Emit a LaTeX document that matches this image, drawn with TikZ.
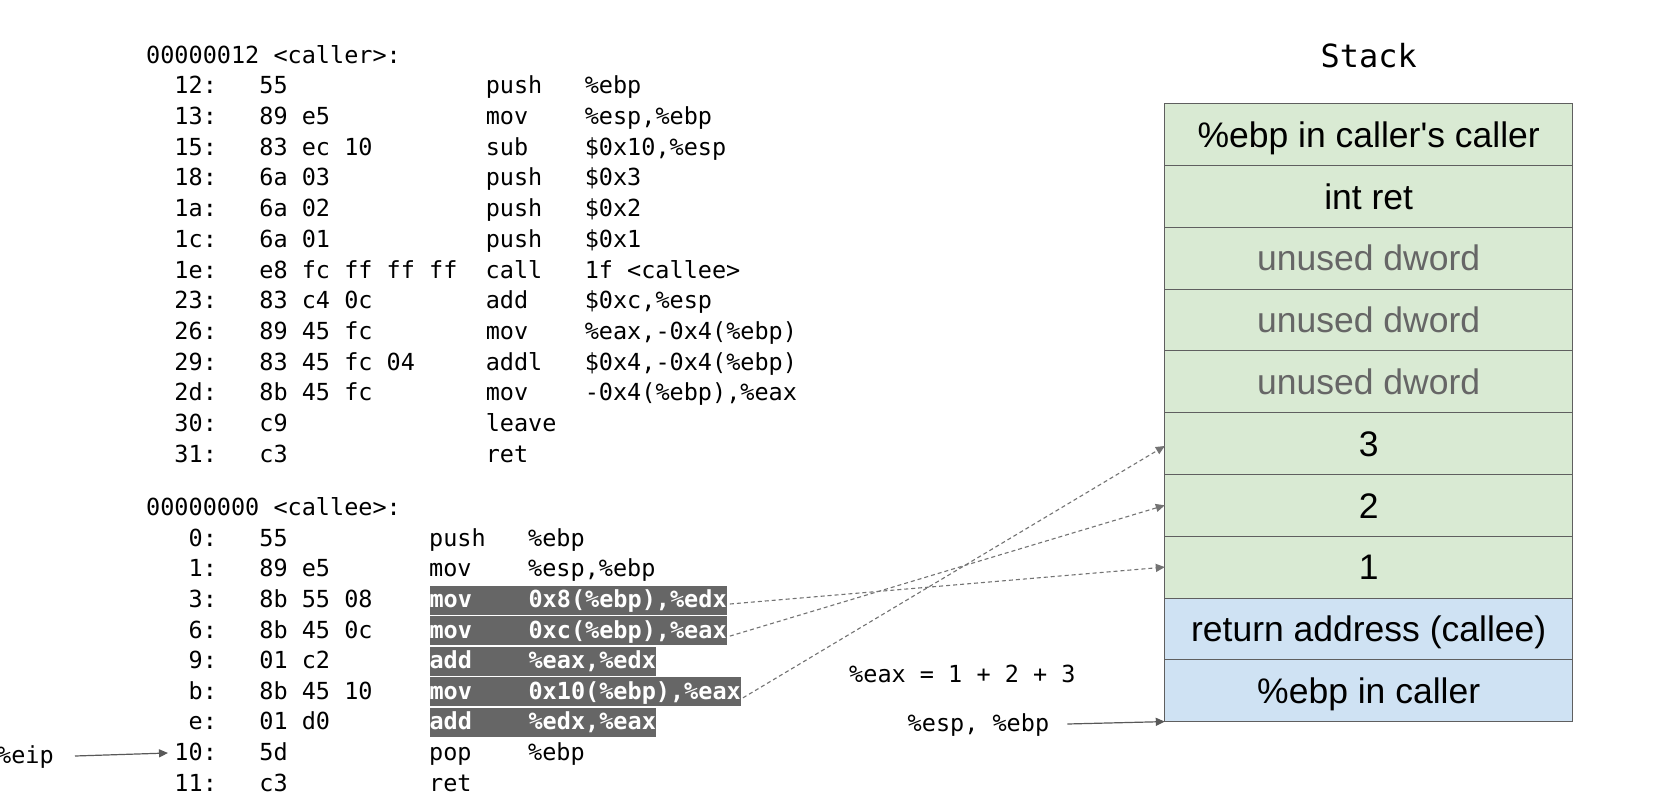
\documentclass[tikz,border=0pt]{standalone}
\usepackage{fontspec}
\usetikzlibrary{arrows.meta}
\newfontfamily\monofont{DejaVu Sans Mono}
\newfontfamily\monoboldfont{DejaVu Sans Mono Bold}
\newfontfamily\stackfont{Liberation Sans}
\newlength\cw
\newcommand\codefont{\monofont\fontsize{23.5}{30.7}\selectfont\frenchspacing\settowidth\cw{0}}
\newcommand\codeboldfont{\monoboldfont\fontsize{23.5}{30.7}\selectfont\frenchspacing\settowidth\cw{0}}
\newcommand\cellfont{\stackfont\fontsize{35.5}{40}\selectfont}
\newcommand\titlefont{\monofont\fontsize{31.9}{36}\selectfont}
% caller line: addr, bytes, mnemonic, operands
\newcommand\Cl[4]{\makebox[5\cw][r]{#1}\hspace*{3\cw}\makebox[16\cw][l]{#2}\makebox[7\cw][l]{#3}#4}
% callee line
\newcommand\Ce[4]{\makebox[5\cw][r]{#1}\hspace*{3\cw}\makebox[12\cw][l]{#2}\makebox[7\cw][l]{#3}#4}
% callee prefix (addr + bytes only)
\newcommand\Cp[2]{\makebox[5\cw][r]{#1}\hspace*{3\cw}\makebox[12\cw][l]{#2}}
% highlighted part
\newcommand\Hl[2]{\makebox[7\cw][l]{#1}#2}
\newcommand\sq{{\XeTeXglyph\XeTeXcharglyph"0027\relax}}
\definecolor{hlgray}{HTML}{666666}
\definecolor{cellborder}{HTML}{5F5F5F}
\definecolor{arrgray}{HTML}{595959}
\definecolor{dashgray}{HTML}{737373}
\definecolor{cgreen}{HTML}{D9EAD3}
\definecolor{cblue}{HTML}{CFE2F3}
\definecolor{unusedgray}{HTML}{666666}
\tikzset{
  code/.style={font=\codefont, anchor=west, inner sep=0pt, text height=19pt, text depth=4pt},
  hl/.style={code, font=\codeboldfont, fill=hlgray, text=white, minimum height=29pt},
  cell/.style={draw=cellborder, line width=1pt, minimum width=407.8pt, minimum height=61.8pt, inner sep=0pt, outer sep=0pt, anchor=north, font=\cellfont, text height=25.4pt, text depth=0pt},
  gcell/.style={cell, fill=cgreen},
  bcell/.style={cell, fill=cblue},
  arr/.style={draw=arrgray, line width=1.2pt, -{Triangle[length=9pt,width=8pt]}},
  darr/.style={draw=dashgray, line width=1.1pt, dash pattern=on 4pt off 3pt, -{Triangle[length=9pt,width=8pt]}},
}
\begin{document}
\begin{tikzpicture}[x=1pt,y=-1pt]
\fill[white] (0,0) rectangle (1674,811);
\useasboundingbox (0,0) rectangle (1674,811);

% ---- caller ----
\node[code] (c0) at (146,55.5) {00000012 <caller>:};
\node[code] (c1) at (146,86.2) {\Cl{12:}{55}{push}{\%ebp}};
\node[code] (c2) at (146,116.9) {\Cl{13:}{89 e5}{mov}{\%esp,\%ebp}};
\node[code] (c3) at (146,147.6) {\Cl{15:}{83 ec 10}{sub}{\$0x10,\%esp}};
\node[code] (c4) at (146,178.3) {\Cl{18:}{6a 03}{push}{\$0x3}};
\node[code] (c5) at (146,209.1) {\Cl{1a:}{6a 02}{push}{\$0x2}};
\node[code] (c6) at (146,239.8) {\Cl{1c:}{6a 01}{push}{\$0x1}};
\node[code] (c7) at (146,270.5) {\Cl{1e:}{e8 fc ff ff ff}{call}{1f <callee>}};
\node[code] (c8) at (146,301.2) {\Cl{23:}{83 c4 0c}{add}{\$0xc,\%esp}};
\node[code] (c9) at (146,331.9) {\Cl{26:}{89 45 fc}{mov}{\%eax,-0x4(\%ebp)}};
\node[code] (c10) at (146,362.6) {\Cl{29:}{83 45 fc 04}{addl}{\$0x4,-0x4(\%ebp)}};
\node[code] (c11) at (146,393.3) {\Cl{2d:}{8b 45 fc}{mov}{-0x4(\%ebp),\%eax}};
\node[code] (c12) at (146,424.0) {\Cl{30:}{c9}{leave}{}};
\node[code] (c13) at (146,454.7) {\Cl{31:}{c3}{ret}{}};

% ---- callee ----
\node[code] (e0) at (146,508.2) {00000000 <callee>:};
\node[code] (e1) at (146,538.8) {\Ce{0:}{55}{push}{\%ebp}};
\node[code] (e2) at (146,569.4) {\Ce{1:}{89 e5}{mov}{\%esp,\%ebp}};
\node[code] (e3) at (146,600.0) {\Cp{3:}{8b 55 08}};
\node[hl] (h3) at (e3.east) {\Hl{mov}{0x8(\%ebp),\%edx}};
\node[code] (e4) at (146,630.6) {\Cp{6:}{8b 45 0c}};
\node[hl] (h6) at (e4.east) {\Hl{mov}{0xc(\%ebp),\%eax}};
\node[code] (e5) at (146,661.2) {\Cp{9:}{01 c2}};
\node[hl] (h9) at (e5.east) {\Hl{add}{\%eax,\%edx}};
\node[code] (e6) at (146,691.8) {\Cp{b:}{8b 45 10}};
\node[hl] (hb) at (e6.east) {\Hl{mov}{0x10(\%ebp),\%eax}};
\node[code] (e7) at (146,722.4) {\Cp{e:}{01 d0}};
\node[hl] (he) at (e7.east) {\Hl{add}{\%edx,\%eax}};
\node[code] (e8) at (146,753.0) {\Ce{10:}{5d}{pop}{\%ebp}};
\node[code] (e9) at (146,783.6) {\Ce{11:}{c3}{ret}{}};

% ---- labels ----
\node[code] (eip) at (-3,756) {\%eip};
\node[code] (eax) at (849,674.7) {\%eax = 1 + 2 + 3};
\node[code] (esp) at (907.5,724) {\%esp, \%ebp};

% ---- stack ----
\node[font=\titlefont, inner sep=0pt] (title) at (1368.7,55.5) {Stack};
\node[gcell] (s1) at (1368.7,103.6) {\%ebp in caller\sq s caller};
\node[gcell] (s2) at (s1.south) {int ret};
\node[gcell, text=unusedgray] (s3) at (s2.south) {unused dword};
\node[gcell, text=unusedgray] (s4) at (s3.south) {unused dword};
\node[gcell, text=unusedgray] (s5) at (s4.south) {unused dword};
\node[gcell] (s6) at (s5.south) {3};
\node[gcell] (s7) at (s6.south) {2};
\node[gcell] (s8) at (s7.south) {1};
\node[bcell] (s9) at (s8.south) {return address (callee)};
\node[bcell] (s10) at (s9.south) {\%ebp in caller};

% ---- connectors ----
\draw[darr] ([shift={(3,4)}]h3.east) -- (s8.west);
\draw[darr] ([shift={(3,5.5)}]h6.east) -- (s7.west);
\draw[darr] ([shift={(2,6)}]hb.east) -- ([yshift=-2.5pt]s6.west);
\draw[arr] ([xshift=18pt]esp.east) -- (s10.south west);
\draw[arr] ([xshift=21pt]eip.east) -- ([xshift=22pt]e8.west);
\end{tikzpicture}
\end{document}
